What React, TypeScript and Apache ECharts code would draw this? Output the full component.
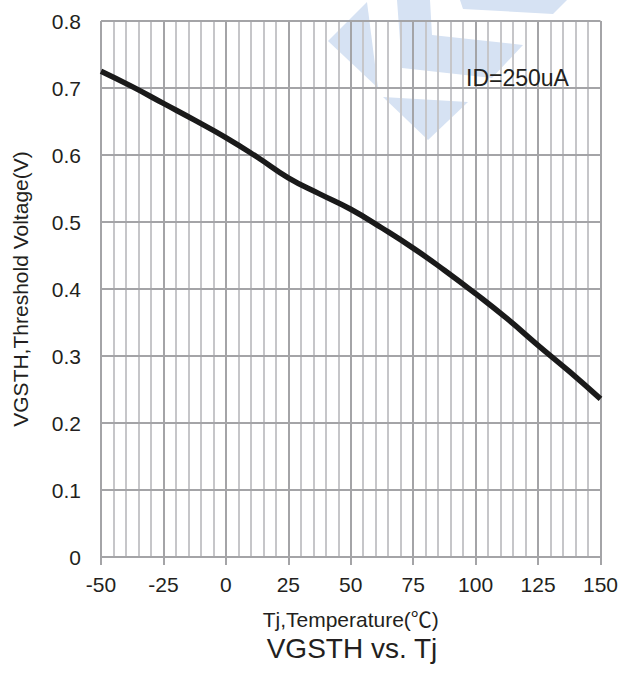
import React, { useEffect, useRef } from "react";
import * as echarts from "echarts";

const temperatures = [-50, -37.5, -25, -12.5, 0, 12.5, 25, 37.5, 50, 62.5, 75, 87.5, 100, 112.5, 125, 137.5, 150];
const vgsth = [0.725, 0.702, 0.677, 0.652, 0.626, 0.597, 0.566, 0.542, 0.519, 0.491, 0.461, 0.428, 0.393, 0.356, 0.316, 0.277, 0.236];

const xTickLabels = ["-50", "-25", "0", "25", "50", "75", "100", "125", "150"];
const yTickLabels = ["0", "0.1", "0.2", "0.3", "0.4", "0.5", "0.6", "0.7", "0.8"];

const FONT = "Liberation Sans, Arial, 'Noto Sans CJK SC', sans-serif";
const TEXT = "#231f20";
const WM = "rgba(214,226,243,1)";

export default function App() {
  const ref = useRef<HTMLDivElement>(null);
  useEffect(() => {
    if (!ref.current) return;
    const chart = echarts.init(ref.current, null, { renderer: "svg" });
    const minorColors = ["#a4a4a7", "#c6c6c9", "#c6c6c9", "#c6c6c9", "#c6c6c9"];
    chart.setOption({
      animation: false,
      backgroundColor: "#ffffff",
      grid: { left: 101, right: 19, top: 21, bottom: 118, containLabel: false },
      xAxis: [
        {
          type: "value",
          min: -50,
          max: 150,
          interval: 5,
          position: "top",
          axisLine: { show: false },
          axisTick: { show: false },
          axisLabel: { show: false },
          splitLine: { show: true, lineStyle: { color: minorColors, width: 2 } },
          z: 0,
        },
        {
          type: "value",
          min: -50,
          max: 150,
          interval: 25,
          position: "bottom",
          name: "Tj,Temperature(℃)",
          nameLocation: "middle",
          nameGap: 52,
          nameTextStyle: { fontFamily: FONT, fontSize: 21, color: TEXT },
          axisLine: { show: true, onZero: false, lineStyle: { color: "#a4a4a7", width: 2 } },
          axisTick: { show: true, length: 8, lineStyle: { color: "#a4a4a7", width: 2 } },
          axisLabel: {
            margin: 17,
            fontFamily: FONT,
            fontSize: 21,
            color: TEXT,
            formatter: (v: number) => {
              const i = Math.round((v + 50) / 25);
              return xTickLabels[i] ?? "";
            },
          },
          splitLine: { show: false },
          z: 1,
        },
      ],
      yAxis: {
        type: "value",
        min: 0,
        max: 0.8,
        interval: 0.1,
        name: "VGSTH,Threshold Voltage(V)",
        nameLocation: "middle",
        nameGap: 70,
        nameRotate: 90,
        nameTextStyle: { fontFamily: FONT, fontSize: 21, color: TEXT },
        axisLine: { show: true, lineStyle: { color: "#a4a4a7", width: 2 } },
        axisTick: { show: true, length: 8, lineStyle: { color: "#a4a4a7", width: 2 } },
        axisLabel: {
          margin: 20,
          fontFamily: FONT,
          fontSize: 21,
          color: TEXT,
          formatter: (v: number) => yTickLabels[Math.round(v * 10)] ?? "",
        },
        splitLine: { show: true, lineStyle: { color: "#a4a4a7", width: 2 } },
        z: 1,
      },
      graphic: [
        {
          type: "group",
          z: -10,
          silent: true,
          children: [
            { type: "polygon", shape: { points: [[367, 2], [328, 41], [378, 88]] }, style: { fill: WM } },
            { type: "polygon", shape: { points: [[397, 0], [430, 0], [432, 35], [523, 45], [492, 78], [402, 68]] }, style: { fill: WM } },
            { type: "polygon", shape: { points: [[383, 97], [468, 102], [428, 140]] }, style: { fill: WM } },
            { type: "polygon", shape: { points: [[460, 0], [567, 0], [553, 14], [463, 9]] }, style: { fill: WM } },
          ],
        },
        {
          type: "text",
          x: 466,
          y: 78,
          z: 10,
          style: { text: "ID=250uA", fontFamily: FONT, fontSize: 23, fill: TEXT, verticalAlign: "middle" },
        },
        {
          type: "text",
          x: 352,
          y: 648,
          z: 10,
          style: { text: "VGSTH vs. Tj", fontFamily: FONT, fontSize: 28, fill: TEXT, align: "center", verticalAlign: "middle" },
        },
      ],
      series: [
        {
          type: "line",
          xAxisIndex: 1,
          data: temperatures.map((t, i) => [t, vgsth[i]]),
          smooth: true,
          showSymbol: false,
          lineStyle: { color: "#1a1a1a", width: 5.5 },
          z: 5,
        },
      ],
    });
    return () => chart.dispose();
  }, []);
  return <div ref={ref} style={{ position: "fixed", left: 0, top: 0, width: 621, height: 675 }} />;
}
